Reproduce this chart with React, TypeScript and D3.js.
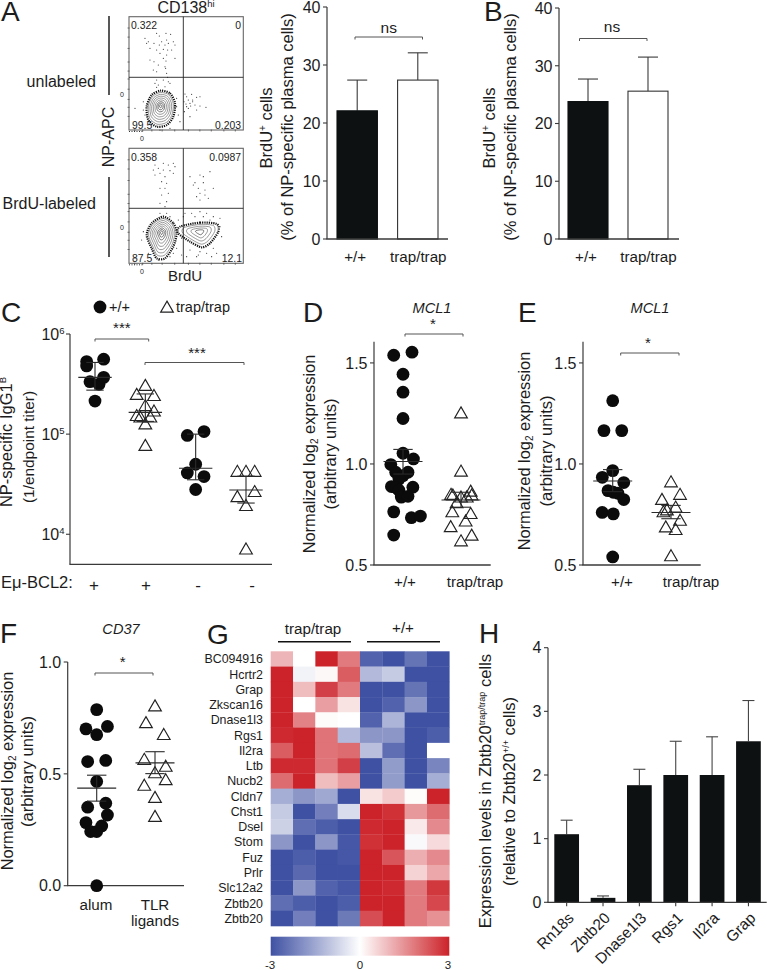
import React from "react";
import * as d3 from "d3";

const FONT = "'Liberation Sans', Arial, sans-serif";
const INK = "#1c1c1c";
const AXIS = "#3a3a3a";

// ---------- Panel A / B bars
const genotypes = ["+/+", "trap/trap"];
const brduAMeans = [22.1, 27.4];
const brduAUpper = [27.4, 32.1];
const brduBMeans = [23.8, 25.6];
const brduBUpper = [27.7, 31.5];
const brduTicks = [0, 10, 20, 30, 40];

// ---------- Panel C
const titerTicks = [1e4, 1e5, 1e6];
const titerGroups = ["+", "+", "-", "-"];
const titerWt1 = [5.3e5, 4.8e5, 5.6e5, 3.34e5, 3.15e5, 3.69e5, 2.14e5];
const titerWt1Jit = [-0.166, -0.166, 0.172, -0.1, 0.08, 0.172, 0];
const titerTrap1 = [3.1e5, 2.52e5, 2.46e5, 1.95e5, 1.72e5, 1.55e5, 1.5e5, 1.5e5, 1.28e5, 7.8e4];
const titerTrap1Jit = [0, -0.172, 0.172, 0, 0.172, -0.172, -0.1, 0.1, 0, 0];
const titerWt2 = [9.7e4, 1.06e5, 5.0e4, 4.1e4, 3.77e4, 2.8e4];
const titerWt2Jit = [-0.166, 0.166, 0, -0.166, 0.166, 0];
const titerTrap2 = [4.3e4, 4.3e4, 4.3e4, 2.7e4, 2.4e4, 1.96e4, 7.2e3];
const titerTrap2Jit = [-0.172, 0, 0.172, 0.172, -0.172, 0, 0];
const titerMedian = [3.69e5, 1.65e5, 4.56e4, 2.77e4];
const titerLow = [2.75e5, 1.34e5, 3.5e4, 2.05e4];
const titerHigh = [5.2e5, 2.52e5, 1.0e5, 3.8e4];

// ---------- Panel D
const mcl1Ticks = [0.5, 1.0, 1.5];
const dWt = [1.538, 1.553, 1.444, 1.355, 1.225, 1.053, 1.025, 0.997, 0.959, 0.942, 0.959, 0.925, 0.888, 0.882, 0.885, 0.87, 0.836, 0.84, 0.763, 0.734, 0.742, 0.648];
const dWtJit = [-0.16, 0.155, 0, 0, 0, 0, 0.18, -0.21, -0.126, 0, 0.086, -0.07, -0.2, -0.115, 0.17, -0.07, -0.03, 0.086, -0.16, 0.144, 0.3, -0.16];
const dTrap = [1.255, 0.967, 0.852, 0.849, 0.839, 0.868, 0.849, 0.839, 0.811, 0.766, 0.757, 0.72, 0.692, 0.65, 0.622];
const dTrapJit = [0, 0, -0.172, -0.14, 0, 0.167, 0.184, 0.1, -0.075, -0.15, 0.167, 0.08, -0.178, 0.184, 0];
const dMean = [1.012, 0.822];
const dLow = [0.95, 0.786];
const dHigh = [1.072, 0.86];

// ---------- Panel E
const eWt = [1.313, 1.165, 1.165, 0.967, 0.934, 0.908, 0.868, 0.86, 0.855, 0.824, 0.76, 0.753, 0.54];
const eWtJit = [0, -0.15, 0.155, 0, -0.178, 0.19, -0.08, 0.01, 0.09, 0.19, -0.18, 0.01, 0];
const eTrap = [0.914, 0.852, 0.827, 0.789, 0.766, 0.775, 0.724, 0.691, 0.678, 0.548];
const eTrapJit = [0, 0.155, -0.155, 0.08, -0.13, -0.07, 0.155, -0.09, 0.08, 0];
const eMean = [0.916, 0.76];
const eLow = [0.863, 0.729];
const eHigh = [0.972, 0.795];

// ---------- Panel F
const cd37Ticks = [0, 0.5, 1.0];
const fWt = [0.787, 0.701, 0.712, 0.675, 0.555, 0.56, 0.466, 0.351, 0.369, 0.316, 0.282, 0.267, 0.242, 0.242, 0];
const fWtJit = [0, -0.184, 0.184, 0, -0.155, 0.155, 0, -0.155, 0.155, 0.184, -0.184, 0.086, -0.103, 0, 0];
const fTlr = [0.806, 0.731, 0.678, 0.567, 0.536, 0.507, 0.476, 0.451, 0.397, 0.312];
const fTlrJit = [0, -0.155, 0.15, -0.184, 0.184, 0, 0.184, -0.184, 0, 0];
const fMean = [0.436, 0.549];
const fLow = [0.378, 0.501];
const fHigh = [0.494, 0.599];

// ---------- Panel G heat map
const genes = ["BC094916", "Hcrtr2", "Grap", "Zkscan16", "Dnase1l3", "Rgs1", "Il2ra", "Ltb", "Nucb2", "Cldn7", "Chst1", "Dsel", "Stom", "Fuz", "Prlr", "Slc12a2", "Zbtb20", "Zbtb20"];
const samples = ["t1", "t2", "t3", "t4", "w1", "w2", "w3", "w4"];
const heatRows = [
  [1.0, 0.0, 3, 1.8, -2.7, -3, -2.4, -3],
  [3, -0.2, 0.1, 2.2, -1.2, -0.9, -3, -3],
  [3, 0.9, 2.6, 1.8, -3, -3, -2.4, -3],
  [3, 0, 1.3, 0.4, -3, -2.7, -1.8, -3],
  [3, 1.7, 0.05, 0, -2.7, -1.3, -3, -3],
  [2.9, 3, 1.9, -1.2, -1.8, -1.8, -3, -2.8],
  [2.2, 3, 1.9, 2.0, -1.1, -2.5, -3, 0],
  [2.9, 2.9, 1.9, 2.6, -3, -1.7, -3, -2.1],
  [2, 3, 0.9, 1.3, -3, -1.7, -3, -1.4],
  [-1.4, -1.8, -1.5, -3, 0.4, 0.7, 0.05, 3],
  [-0.9, -3, -2.2, -0.6, 3, 2.8, 1.4, 2.0],
  [-0.8, -2.5, -2.8, -3, 2.9, 3, 0.3, 1.6],
  [-1.8, -3, -1.8, -2.9, 2.8, 3, -0.1, 0.5],
  [-3, -2.8, -3, -2.9, 3, 2.3, 1.1, 1.6],
  [-3, -2.6, -3, -3, 3, 3, 0.6, 1.2],
  [-3, -1.8, -2.7, -2.9, 3, 2.9, 1.8, 2.7],
  [-2.5, -2.8, -3, -2.8, 3, 3, 1.8, 2.5],
  [-3, -2.2, -3, -2.3, 2.4, 3, 1.8, 1.5],
];
const heatLegendStops = [-3, -2, -1, 0, 1, 2, 3];

// ---------- Panel H
const qpcrGenes = ["Rn18s", "Zbtb20", "Dnase1l3", "Rgs1", "Il2ra", "Grap"];
const qpcrMean = [1.07, 0.07, 1.84, 2.0, 2.0, 2.53];
const qpcrUpper = [1.29, 0.1, 2.09, 2.53, 2.6, 3.17];
const qpcrTicks = [0, 1, 2, 3, 4];

// ---------- Panel A flow cytometry (instrument channel units)
const flowTopEvents: [number, number][] = [
  [435, 115], [470, 100], [498, 100], [512, 103], [478, 108], [445, 125], [485, 125], [500, 120], [520, 125], [440, 130], [462, 130], [478, 135], [495, 135], [505, 130], [525, 135], [450, 145], [470, 150], [490, 148], [503, 150], [515, 150], [480, 160], [500, 165], [490, 175], [450, 180], [462, 185], [498, 183], [525, 175], [475, 195], [495, 200], [460, 210], [470, 215], [497, 205], [500, 220], [503, 232], [470, 240], [490, 240], [505, 245], [465, 250], [475, 255], [510, 250], [470, 262], [495, 260],
  [555, 282], [560, 290], [575, 283], [590, 292], [600, 290], [552, 305], [565, 300], [578, 300], [558, 312], [570, 310], [585, 315], [600, 318], [618, 322], [560, 320], [572, 318], [578, 305], [565, 325], [553, 335], [590, 330], [570, 350],
  [430, 330], [435, 345], [530, 320], [535, 345], [430, 305], [405, 325], [530, 295], [540, 365], [425, 365], [510, 385], [480, 390],
];
const flowBottomEvents: [number, number][] = [
  [465, 495], [490, 490], [505, 495], [520, 490], [460, 510], [475, 505], [490, 510], [510, 512], [525, 500], [465, 525], [480, 520], [495, 530], [520, 520], [485, 545], [500, 550], [480, 565], [495, 565], [485, 585], [505, 580], [500, 605], [480, 610], [495, 620], [480, 640], [500, 640], [490, 655], [510, 650],
  [570, 530], [600, 525], [630, 515], [610, 530], [585, 548], [610, 548], [595, 565], [640, 565], [600, 580], [615, 585], [625, 595], [590, 590], [600, 600], [580, 555], [615, 570],
  [555, 640], [575, 640], [600, 635], [620, 640], [640, 650], [660, 680], [665, 710], [640, 745], [600, 755], [570, 750], [560, 770], [590, 770], [620, 760], [550, 650], [585, 650], [610, 650], [630, 660], [535, 660], [430, 695], [425, 720], [445, 760], [520, 760], [510, 770], [650, 760], [530, 745], [545, 715], [660, 655], [545, 765], [475, 780], [405, 775], [595, 765], [635, 770],
];
const contourTop: [number, number][] = [[482, 272], [510, 280], [525, 310], [520, 350], [500, 375], [470, 380], [445, 360], [440, 320], [455, 285]];
const contourBottomLeft: [number, number][] = [[490, 650], [520, 670], [530, 700], [520, 740], [495, 775], [470, 775], [455, 745], [440, 705], [455, 670]];
const contourBottomRight: [number, number][] = [[540, 680], [600, 668], [650, 672], [655, 695], [630, 730], [605, 742], [570, 725], [535, 700]];
const contourLevels = [0.88, 0.76, 0.64, 0.52, 0.4, 0.28, 0.18, 0.08];
const contourLevelsRight = [0.8, 0.6, 0.4, 0.2];

const T: React.FC<any> = ({ x, y, size = 16, anchor = "start", rotate, italic, children, weight }) => (
  <text
    x={rotate === undefined ? x : 0}
    y={rotate === undefined ? y : 0}
    transform={rotate === undefined ? undefined : `translate(${x},${y}) rotate(${rotate})`}
    fontFamily={FONT}
    fontSize={size}
    textAnchor={anchor}
    fontStyle={italic ? "italic" : undefined}
    fontWeight={weight}
    fill={INK}
  >
    {children}
  </text>
);

const Bracket: React.FC<any> = ({ x0, x1, y, drop = 2.5, label, lx, ly, size = 16 }) => (
  <g>
    <path d={`M${x0},${y + drop}V${y}H${x1}V${y + drop}`} fill="none" stroke="#555" strokeWidth={1} />
    <T x={lx ?? (x0 + x1) / 2} y={ly} anchor="middle" size={size}>{label}</T>
  </g>
);

const YAxis: React.FC<any> = ({ x, scale, ticks, fmt, x1, size = 16, labelGap = 6.5 }) => (
  <g>
    <line x1={x} x2={x} y1={scale.range()[0]} y2={scale.range()[1]} stroke={AXIS} strokeWidth={1.2} />
    <line x1={x - 0.6} x2={x1} y1={scale.range()[0]} y2={scale.range()[0]} stroke={AXIS} strokeWidth={1.3} />
    {ticks.map((t: number) => (
      <g key={t}>
        <line x1={x - 4} x2={x} y1={scale(t)} y2={scale(t)} stroke={AXIS} strokeWidth={1.1} />
        <T x={x - labelGap} y={scale(t) + size * 0.36} anchor="end" size={size}>{fmt ? fmt(t) : String(t)}</T>
      </g>
    ))}
  </g>
);

const BarPanel: React.FC<any> = ({ axisX, xEnd, yTop, y0, band0, band1, means, uppers, bracket }) => {
  const y = d3.scaleLinear().domain([0, 40]).range([y0, yTop]);
  const x = d3.scaleBand<string>().domain(genotypes).range([band0, band1]).paddingInner(0.333);
  const fills = ["#0e1112", "#ffffff"];
  return (
    <g>
      {genotypes.map((g, i) => {
        const bx = x(g)!;
        const c = bx + x.bandwidth() / 2;
        return (
          <g key={g}>
            <line x1={c} x2={c} y1={y(means[i])} y2={y(uppers[i])} stroke={AXIS} strokeWidth={1.1} />
            <line x1={c - 10} x2={c + 10} y1={y(uppers[i])} y2={y(uppers[i])} stroke={AXIS} strokeWidth={1.1} />
            <rect x={bx} y={y(means[i])} width={x.bandwidth()} height={y0 - y(means[i])} fill={fills[i]} stroke={i ? "#333" : "#0e1112"} strokeWidth={1.1} />
            <T x={c - (i ? -0.5 : 2)} y={262} anchor="middle" size={15.2}>{g}</T>
          </g>
        );
      })}
      <YAxis x={axisX} scale={y} ticks={brduTicks} x1={xEnd} />
      <Bracket {...bracket} label="ns" size={15.5} />
    </g>
  );
};

const triPath = d3.symbol(d3.symbolTriangle).size(70)()!;

const Dots: React.FC<any> = ({ values, jitter, group, xScale, yScale, kind }) => (
  <g>
    {values.map((v: number, i: number) => {
      const cx = xScale(group + jitter[i]);
      const cy = yScale(v);
      return kind === "circle" ? (
        <circle key={i} cx={cx} cy={cy} r={6.4} fill="#0b0b0b" />
      ) : (
        <path key={i} d={triPath} transform={`translate(${cx},${cy + 1.8})`} fill="none" stroke="#222" strokeWidth={1.15} />
      );
    })}
  </g>
);

const Summary: React.FC<any> = ({ means, lows, highs, xScale, yScale, half = 19.5, cap = 9.7 }) => (
  <g>
    {means.map((m: number, i: number) => {
      const c = xScale(i);
      return (
        <g key={i} stroke="#2a2a2a" strokeWidth={1.1}>
          <line x1={c} x2={c} y1={yScale(lows[i])} y2={yScale(highs[i])} />
          <line x1={c - cap} x2={c + cap} y1={yScale(lows[i])} y2={yScale(lows[i])} />
          <line x1={c - cap} x2={c + cap} y1={yScale(highs[i])} y2={yScale(highs[i])} />
          <line x1={c - half} x2={c + half} y1={yScale(m)} y2={yScale(m)} />
        </g>
      );
    })}
  </g>
);

const SwarmPanel: React.FC<any> = ({ axisX, xEnd, yScale, ticks, fmt, c0, c1, a, aj, b, bj, means, lows, highs }) => {
  const x = d3.scaleLinear().domain([0, 1]).range([c0, c1]);
  return (
    <g>
      <YAxis x={axisX} scale={yScale} ticks={ticks} x1={xEnd} fmt={fmt} />
      <Dots values={a} jitter={aj} group={0} xScale={x} yScale={yScale} kind="circle" />
      <Dots values={b} jitter={bj} group={1} xScale={x} yScale={yScale} kind="tri" />
      <Summary means={means} lows={lows} highs={highs} xScale={x} yScale={yScale} />
    </g>
  );
};

const contourLine = d3.line().curve(d3.curveCardinalClosed.tension(0.2));

const Contour: React.FC<any> = ({ outline, levels, sx, sy, cx, cy }) => {
  const shrink = (k: number) => outline.map(([px, py]: [number, number]) => [sx(cx + (px - cx) * k), sy(cy + (py - cy) * k)] as [number, number]);
  return (
    <g fill="none">
      <path d={contourLine(shrink(1))!} stroke="#111" strokeWidth={2.2} strokeDasharray="1.2 1" />
      {levels.map((k: number) => (
        <path key={k} d={contourLine(shrink(k))!} stroke={k < 0.3 ? "#222" : "#555"} strokeWidth={0.6} />
      ))}
    </g>
  );
};

const FlowPanel: React.FC<any> = ({ top, height, hLine, events, children, labels, chanY0, chanY1 }) => {
  const left = 129, right = 243.3;
  const sx = d3.scaleLinear().domain([387, 730]).range([left, right]);
  const sy = d3.scaleLinear().domain([chanY0, chanY1]).range([top + height, top]);
  const yTicks = [0.12, 0.2, 0.27, 0.36, 0.45, 0.52, 0.6, 0.72, 0.82, 0.9];
  const xTicks = [0.05, 0.12, 0.2, 0.29, 0.4, 0.52, 0.62, 0.72, 0.83, 0.93];
  return (
    <g>
      <rect x={left} y={top} width={right - left} height={height} fill="#fff" stroke="#666" strokeWidth={1.1} />
      {children(sx, sy)}
      {events.map(([a, b]: [number, number], i: number) => (
        <circle key={i} cx={sx(a)} cy={sy(b)} r={0.55} fill="#222" />
      ))}
      <line x1={sx(550)} x2={sx(550)} y1={top} y2={top + height} stroke="#222" strokeWidth={0.9} />
      <line x1={left} x2={right} y1={hLine} y2={hLine} stroke="#222" strokeWidth={0.9} />
      {yTicks.map((t) => (
        <line key={t} x1={left - 1.5} x2={left + 0.5} y1={top + height * (1 - t)} y2={top + height * (1 - t)} stroke="#444" strokeWidth={0.7} />
      ))}
      {xTicks.map((t) => (
        <line key={t} x1={left + (right - left) * t} x2={left + (right - left) * t} y1={top + height - 0.5} y2={top + height + 1.5} stroke="#444" strokeWidth={0.7} />
      ))}
      <line x1={left} x2={left + 14} y1={top + height + 1.5} y2={top + height + 1.5} stroke="#333" strokeWidth={1} strokeDasharray="1 1.5" />
      {labels.map((l: any, i: number) => (
        <T key={i} x={l.x} y={top + l.dy} anchor={l.anchor} size={10.4}>{l.text}</T>
      ))}
      <T x={120} y={top + height * 0.71} size={7} anchor="start">0</T>
      <T x={142} y={top + height + 11} size={7} anchor="middle">0</T>
    </g>
  );
};

const Heatmap: React.FC = () => {
  const x = d3.scaleBand<string>().domain(samples).range([270.7, 449.3]);
  const y = d3.scaleBand<number>().domain(d3.range(genes.length)).range([651.3, 926]);
  const color = d3.scaleLinear<string>().domain([-3, 0, 3]).range(["#3f51a3", "#ffffff", "#cc2229"]);
  const lg = d3.scaleLinear().domain([-3, 3]).range([0, 100]);
  return (
    <g>
      <defs>
        <linearGradient id="heatLegend">
          {heatLegendStops.map((s) => (
            <stop key={s} offset={`${lg(s)}%`} stopColor={color(s)} />
          ))}
        </linearGradient>
      </defs>
      {heatRows.map((row, r) =>
        row.map((v, c) => (
          <rect key={`${r}-${c}`} x={x(samples[c])} y={y(r)} width={x.bandwidth() + 0.3} height={y.bandwidth() + 0.3} fill={color(v)} />
        ))
      )}
      {genes.map((g, r) => (
        <T key={r} x={263} y={y(r)! + y.bandwidth() / 2 + 4.4} anchor="end" size={12.4}>{g}</T>
      ))}
      <rect x={270.7} y={936.7} width={178.6} height={19} fill="url(#heatLegend)" />
      {[-3, 0, 3].map((t) => (
        <T key={t} x={t === -3 ? 270 : t === 0 ? 360 : 448} y={969} anchor="middle" size={11.5}>{String(t)}</T>
      ))}
      <T x={313} y={634} anchor="middle" size={15.2}>trap/trap</T>
      <T x={403} y={633} anchor="middle" size={15.2}>+/+</T>
      <line x1={278} x2={351} y1={641.7} y2={641.7} stroke="#111" strokeWidth={1.4} />
      <line x1={367} x2={440} y1={641.7} y2={641.7} stroke="#111" strokeWidth={1.4} />
    </g>
  );
};

const PanelH: React.FC = () => {
  const y = d3.scaleLinear().domain([0, 4]).range([902.3, 647.7]);
  const x = d3.scaleBand<string>().domain(qpcrGenes).range([554.3, 760.8]).paddingInner(0.32);
  return (
    <g>
      {qpcrGenes.map((g, i) => {
        const bx = x(g)!;
        const c = bx + x.bandwidth() / 2;
        return (
          <g key={g}>
            <line x1={c} x2={c} y1={y(qpcrMean[i])} y2={y(qpcrUpper[i])} stroke="#444" strokeWidth={1.1} />
            <line x1={c - 6} x2={c + 6} y1={y(qpcrUpper[i])} y2={y(qpcrUpper[i])} stroke="#444" strokeWidth={1.1} />
            <rect x={bx} y={y(qpcrMean[i])} width={x.bandwidth()} height={902.3 - y(qpcrMean[i])} fill="#0e1112" />
            <line x1={c} x2={c} y1={902.3} y2={906.3} stroke={AXIS} strokeWidth={1.1} />
            <T x={c + 8} y={919} anchor="end" size={15.4} rotate={-45}>{g}</T>
          </g>
        );
      })}
      <YAxis x={548} scale={y} ticks={qpcrTicks} x1={766.7} />
    </g>
  );
};

const titerTick = (t: number) => (
  <>
    10<tspan dy={-6} fontSize={9.5}>{Math.round(Math.log10(t))}</tspan>
  </>
);

const mcl1Scale = d3.scaleLinear().domain([0.5, 1.605]).range([565, 341.7]);
const oneDecimal = d3.format(".1f");

const NormLabel: React.FC<any> = ({ x, y }) => (
  <T x={x} y={y} size={16.4} anchor="middle" rotate={-90}>
    Normalized log<tspan dy={3} fontSize={10}>2</tspan><tspan dy={-3}> expression</tspan>
  </T>
);

const BrduLabel: React.FC<any> = ({ x, y }) => (
  <T x={x} y={y} size={16.5} anchor="middle" rotate={-90}>
    BrdU<tspan dy={-6} fontSize={10}>+</tspan><tspan dy={6}> cells</tspan>
  </T>
);

export default function App() {
  const titerY = d3.scaleLog().domain([10 ** 3.7, 1e6]).range([564.3, 334]);
  const titerX = d3.scaleLinear().domain([0, 3]).range([95, 246]);
  const cd37Y = d3.scaleLinear().domain([0, 1]).range([885.7, 662]);

  return (
    <svg width={767} height={970} viewBox="0 0 767 970" style={{ position: "absolute", left: 0, top: 0, background: "#fff" }}>
      {/* Panel letters */}
      <T x={1} y={21} size={28}>A</T>
      <T x={484} y={21} size={28}>B</T>
      <T x={1} y={322} size={28}>C</T>
      <T x={303} y={322} size={28}>D</T>
      <T x={518} y={322} size={28}>E</T>
      <T x={0} y={643} size={28}>F</T>
      <T x={207} y={644} size={28}>G</T>
      <T x={479} y={643} size={28}>H</T>

      {/* A: flow */}
      <T x={186} y={13} size={16} anchor="middle">CD138<tspan dy={-6} fontSize={9.5}>hi</tspan></T>
      <T x={96} y={87} size={16} anchor="end">unlabeled</T>
      <T x={96} y={209} size={16} anchor="end">BrdU-labeled</T>
      <T x={114} y={137} size={16} anchor="middle" rotate={-90}>NP-APC</T>
      <line x1={109} x2={109} y1={16} y2={95} stroke="#111" strokeWidth={1.4} />
      <line x1={109} x2={109} y1={177} y2={257} stroke="#111" strokeWidth={1.4} />
      <T x={185} y={281} size={15} anchor="middle">BrdU</T>
      <FlowPanel
        top={16.7}
        height={113.3}
        hLine={77.3}
        chanY0={390}
        chanY1={50}
        events={flowTopEvents}
        labels={[
          { x: 131, dy: 12, text: "0.322" },
          { x: 241, dy: 12, text: "0", anchor: "end" },
          { x: 132, dy: 112, text: "99.5" },
          { x: 241, dy: 112, text: "0.203", anchor: "end" },
        ]}
      >
        {(sx: any, sy: any) => <Contour outline={contourTop} levels={contourLevels} sx={sx} sy={sy} cx={482} cy={318} />}
      </FlowPanel>
      <FlowPanel
        top={148.3}
        height={115}
        hLine={208.3}
        chanY0={790}
        chanY1={445}
        events={flowBottomEvents}
        labels={[
          { x: 131, dy: 12.5, text: "0.358" },
          { x: 241, dy: 12.5, text: "0.0987", anchor: "end" },
          { x: 132, dy: 113.5, text: "87.5" },
          { x: 242, dy: 113.5, text: "12.1", anchor: "end" },
        ]}
      >
        {(sx: any, sy: any) => (
          <>
            <Contour outline={contourBottomRight} levels={contourLevelsRight} sx={sx} sy={sy} cx={600} cy={695} />
            <Contour outline={contourBottomLeft} levels={contourLevels} sx={sx} sy={sy} cx={485} cy={697} />
          </>
        )}
      </FlowPanel>

      {/* A: bars */}
      <BrduLabel x={272} y={128} />
      <T x={293} y={127} size={16.5} anchor="middle" rotate={-90}>(% of NP-specific plasma cells)</T>
      <BarPanel axisX={327} xEnd={448} yTop={7} y0={239} band0={337} band1={438} means={brduAMeans} uppers={brduAUpper}
        bracket={{ x0: 355, x1: 422.5, y: 37, ly: 33 }} />

      {/* B: bars */}
      <BrduLabel x={495} y={128} />
      <T x={516} y={127} size={16.5} anchor="middle" rotate={-90}>(% of NP-specific plasma cells)</T>
      <BarPanel axisX={559} xEnd={679} yTop={8} y0={239} band0={568} band1={668} means={brduBMeans} uppers={brduBUpper}
        bracket={{ x0: 579.5, x1: 647, y: 38.5, ly: 32, lx: 612 }} />

      {/* C */}
      <circle cx={100} cy={307} r={6.4} fill="#0b0b0b" />
      <T x={109} y={312} size={14.5}>+/+</T>
      <path d={triPath} transform="translate(167,308.5)" fill="none" stroke="#222" strokeWidth={1.15} />
      <T x={176} y={312} size={14.5}>trap/trap</T>
      <T x={12} y={442} size={16.5} anchor="middle" rotate={-90}>NP-specific IgG1<tspan dy={-6} fontSize={9.5}>B</tspan></T>
      <T x={34} y={447} size={15.4} anchor="middle" rotate={-90}>(1/endpoint titer)</T>
      <YAxis x={70} scale={titerY} ticks={titerTicks} x1={272} fmt={titerTick} size={16} labelGap={5.5} />
      <Dots values={titerWt1} jitter={titerWt1Jit} group={0} xScale={titerX} yScale={titerY} kind="circle" />
      <Dots values={titerTrap1} jitter={titerTrap1Jit} group={1} xScale={titerX} yScale={titerY} kind="tri" />
      <Dots values={titerWt2} jitter={titerWt2Jit} group={2} xScale={titerX} yScale={titerY} kind="circle" />
      <Dots values={titerTrap2} jitter={titerTrap2Jit} group={3} xScale={titerX} yScale={titerY} kind="tri" />
      <Summary means={titerMedian} lows={titerLow} highs={titerHigh} xScale={titerX} yScale={titerY} half={16.7} cap={8.7} />
      <Bracket x0={95} x1={148.7} y={339} label="***" ly={333} size={15} />
      <Bracket x0={145} x1={244} y={362.5} label="***" lx={197} ly={358} size={15} />
      <T x={1} y={588} size={16.5}>Eμ-BCL2:</T>
      {titerGroups.map((g, i) => (
        <T key={i} x={[94, 146, 198, 252][i]} y={591} size={17} anchor="middle">{g}</T>
      ))}

      {/* D */}
      <T x={432} y={312.5} size={14.6} anchor="middle" italic>MCL1</T>
      <NormLabel x={315} y={454} />
      <T x={336} y={454} size={16.5} anchor="middle" rotate={-90}>(arbitrary units)</T>
      <SwarmPanel axisX={374} xEnd={490.7} yScale={mcl1Scale} ticks={mcl1Ticks} fmt={oneDecimal} c0={403} c1={461}
        a={dWt} aj={dWtJit} b={dTrap} bj={dTrapJit} means={dMean} lows={dLow} highs={dHigh} />
      <Bracket x0={405} x1={463} y={334} label="*" lx={433} ly={329} size={15} />
      <T x={405} y={587} size={15.2} anchor="middle">+/+</T>
      <T x={475} y={587} size={15.2} anchor="middle">trap/trap</T>

      {/* E */}
      <T x={650} y={312.5} size={14.6} anchor="middle" italic>MCL1</T>
      <NormLabel x={530} y={451} />
      <T x={552} y={451} size={16.5} anchor="middle" rotate={-90}>(arbitrary units)</T>
      <SwarmPanel axisX={583} xEnd={700.7} yScale={mcl1Scale} ticks={mcl1Ticks} fmt={oneDecimal} c0={612.7} c1={671}
        a={eWt} aj={eWtJit} b={eTrap} bj={eTrapJit} means={eMean} lows={eLow} highs={eHigh} />
      <Bracket x0={620.7} x1={679} y={353} label="*" lx={648} ly={348} size={15} />
      <T x={622} y={587} size={15.2} anchor="middle">+/+</T>
      <T x={691} y={587} size={15.2} anchor="middle">trap/trap</T>

      {/* F */}
      <T x={121} y={634} size={14.6} anchor="middle" italic>CD37</T>
      <NormLabel x={13} y={771} />
      <T x={33} y={771.5} size={16.5} anchor="middle" rotate={-90}>(arbitrary units)</T>
      <SwarmPanel axisX={67.7} xEnd={184} yScale={cd37Y} ticks={cd37Ticks} fmt={oneDecimal} c0={96.7} c1={155}
        a={fWt} aj={fWtJit} b={fTlr} bj={fTlrJit} means={fMean} lows={fLow} highs={fHigh} />
      <Bracket x0={95} x1={153} y={673} label="*" lx={122.7} ly={667} size={15} />
      <T x={96} y={910} size={15.2} anchor="middle">alum</T>
      <T x={155} y={910} size={15.2} anchor="middle">TLR</T>
      <T x={155} y={926} size={15.2} anchor="middle">ligands</T>

      {/* G */}
      <Heatmap />

      {/* H */}
      <T x={491} y={791} size={16.6} anchor="middle" rotate={-90}>
        Expression levels in Zbtb20<tspan dy={-6} fontSize={9}>trap/trap</tspan><tspan dy={6}> cells</tspan>
      </T>
      <T x={515} y={791.5} size={16.5} anchor="middle" rotate={-90}>
        (relative to Zbtb20<tspan dy={-6} fontSize={9}>+/+</tspan><tspan dy={6}> cells)</tspan>
      </T>
      <PanelH />
    </svg>
  );
}
